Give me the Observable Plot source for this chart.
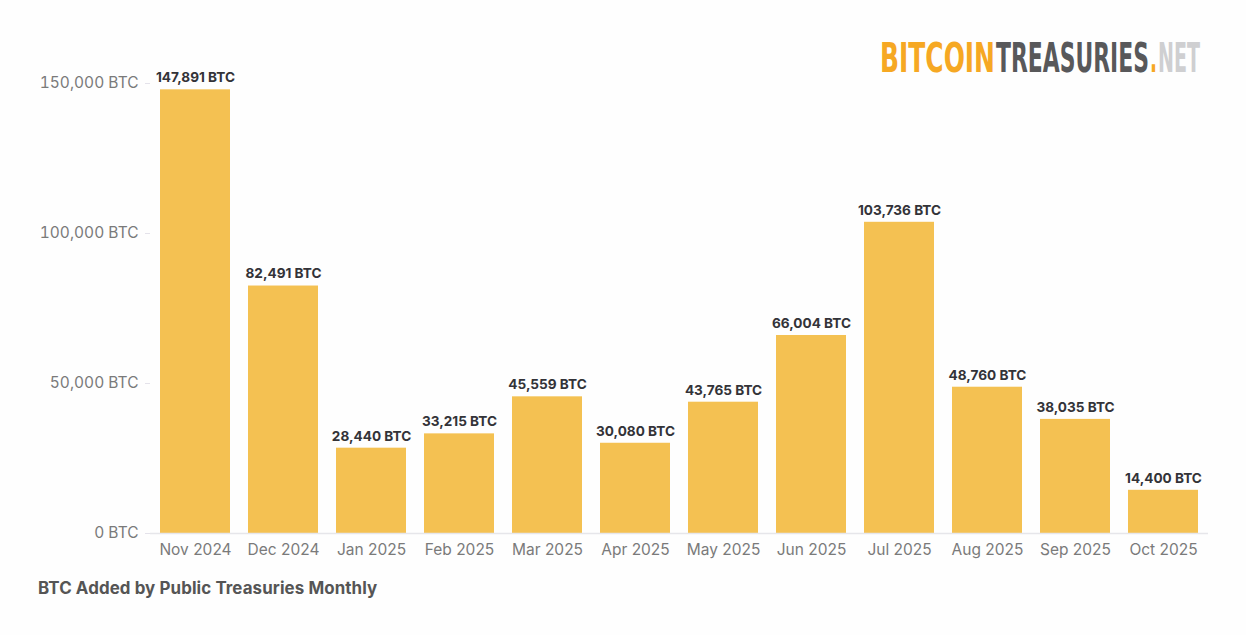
<!DOCTYPE html>
<html>
<head>
<meta charset="utf-8">
<script src="https://cdn.jsdelivr.net/npm/d3@7"></script>
<script src="https://cdn.jsdelivr.net/npm/@observablehq/plot@0.6"></script>
<style>
  html, body { margin: 0; padding: 0; background: #fefefe; }
  #wrap { position: relative; width: 1246px; height: 635px; overflow: hidden; font-family: Inter, "Noto Sans", sans-serif; }
  #chart { position: absolute; left: 0; top: 0; }
  #logo { position: absolute; left: 870px; top: 20px; overflow: visible; }
  #caption { position: absolute; left: 38px; top: 578px; font-size: 16.9px; font-weight: 700; color: #555; font-family: Inter, "Noto Sans", sans-serif; letter-spacing: 0.1px; }
</style>
</head>
<body>
<div id="wrap">
  <div id="chart"></div>
  <svg id="logo" width="350" height="75" font-family="'DejaVu Sans'" font-weight="bold" font-size="19">
    <g transform="translate(0,52) scale(1,2.15)">
      <text x="10" y="0" fill="#F6A823" textLength="115" lengthAdjust="spacingAndGlyphs">BITCOIN</text>
      <text x="126" y="0" fill="#58585a" textLength="153" lengthAdjust="spacingAndGlyphs">TREASURIES</text>
      <text x="280" y="0" fill="#F6A823" textLength="7" lengthAdjust="spacingAndGlyphs">.</text>
      <text x="288" y="0" fill="#cfcfd1" textLength="42" lengthAdjust="spacingAndGlyphs">NET</text>
    </g>
  </svg>
  <div id="caption">BTC Added by Public Treasuries Monthly</div>
</div>
<script>
const months = ["Nov 2024","Dec 2024","Jan 2025","Feb 2025","Mar 2025","Apr 2025","May 2025","Jun 2025","Jul 2025","Aug 2025","Sep 2025","Oct 2025"];
const btcAdded = [147891, 82491, 28440, 33215, 45559, 30080, 43765, 66004, 103736, 48760, 38035, 14400];
const yTicks = [0, 50000, 100000, 150000];

const data = months.map((m, i) => ({month: m, value: btcAdded[i]}));
const fmt = d3.format(",");

const chart = Plot.plot({
  width: 1246,
  height: 565,
  marginLeft: 150,
  marginRight: 38,
  marginTop: 53,
  marginBottom: 32,
  style: {background: "transparent", fontFamily: "Inter, 'Noto Sans', sans-serif"},
  x: {domain: months, paddingInner: 0.2, paddingOuter: 0.1, label: null},
  y: {domain: [0, 160000], label: null},
  marks: [
    Plot.axisY({ticks: yTicks, tickFormat: d => fmt(d) + " BTC", tickSize: 5, tickPadding: 7, fontSize: 15.5, color: "#7a7a7a", stroke: "#e4e2ea", line: true, label: null}),
    Plot.axisX({tickSize: 0, tickPadding: 10, fontSize: 15.5, color: "#7a7a7a", label: null}),
    Plot.barY(data, {x: "month", y: "value", fill: "#F4C152"}),
    Plot.ruleY([0], {stroke: "#e6e6ea", strokeWidth: 1.5}),
    Plot.text(data, {x: "month", y: "value", text: d => fmt(d.value) + " BTC", dy: -12, fontSize: 13.6, fontWeight: 700, fill: "#333338"})
  ]
});
document.getElementById("chart").appendChild(chart);
</script>
</body>
</html>
